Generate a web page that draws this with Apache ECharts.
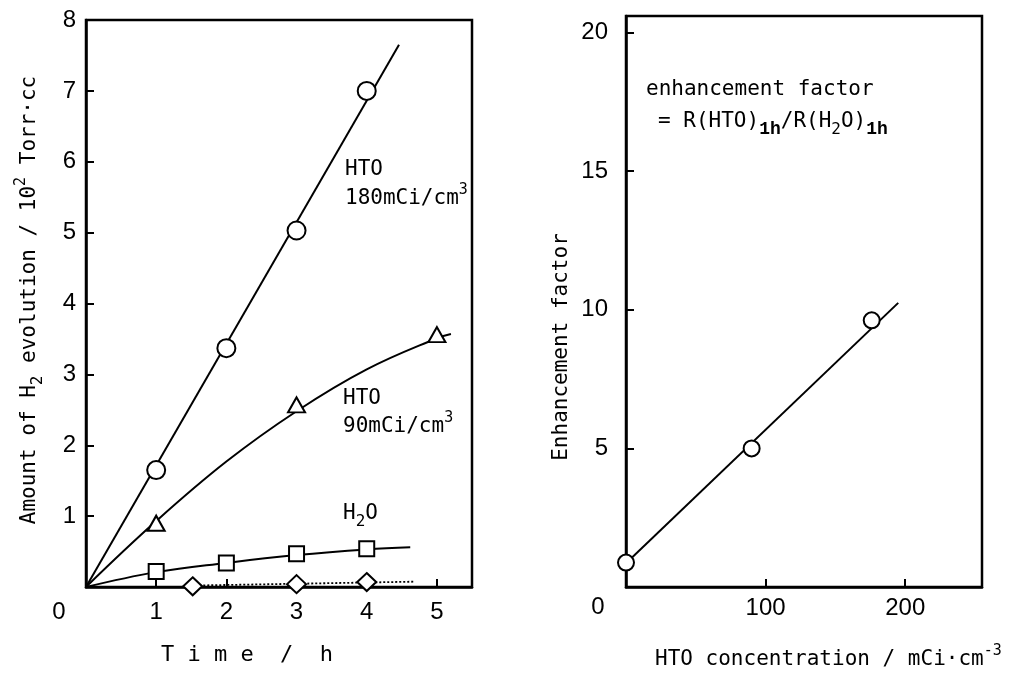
<!DOCTYPE html>
<html>
<head>
<meta charset="utf-8">
<script src="https://cdn.jsdelivr.net/npm/echarts@6/dist/echarts.min.js"></script>
<style>
html,body{margin:0;padding:0;background:#fff;}
#chart{width:1010px;height:673px;}
</style>
</head>
<body>
<div id="chart"></div>
<script>
// ---------- Left panel data (Time / h vs amount of H2 evolution / 10^2 Torr·cc) ----------
const hto180Time = [1, 2, 3, 4];
const hto180Amount = [1.65, 3.37, 5.03, 7.0];
const hto180Fit = [[0, 0], [4.46, 7.65]];

const hto90Time = [1, 3, 5];
const hto90Amount = [0.9, 2.57, 3.56];
const hto90Fit = [[0, 0], [1, 0.93], [2, 1.77], [3, 2.48], [4, 3.07], [5, 3.51], [5.2, 3.57]];

const h2oTime = [1, 2, 3, 4];
const h2oAmount = [0.22, 0.34, 0.47, 0.54];
const h2oFit = [[0, 0], [1, 0.21], [2, 0.34], [3, 0.45], [4, 0.53], [4.62, 0.56]];

const blankTime = [1.52, 3, 4];
const blankAmount = [0.01, 0.04, 0.07];
const blankFit = [[1.5, 0.02], [4.67, 0.075]];

// ---------- Right panel data (HTO concentration vs enhancement factor) ----------
const concentration = [0, 90, 176];
const enhancement = [0.88, 5.0, 9.62];
const enhancementFit = [[0, 0.86], [195, 10.25]];

// ---------- Axis ranges / ticks ----------
const leftX = {min: 0, max: 5.5, interval: 1};
const leftY = {min: 0, max: 8, interval: 1};
const rightX = {min: 0, max: 255, interval: 100};
const rightY = {min: 0, max: 20.6, interval: 5};

const MONO = 'DejaVu Sans Mono';
const SANS = 'Liberation Sans';
const TICKFS = 24;

function pts(xs, ys) { return xs.map((x, i) => [x, ys[i]]); }

function tickFmt(intv, max) {
  return function (v) {
    if (v === 0) return '';
    if (Math.abs(v / intv - Math.round(v / intv)) > 1e-6) return '';
    if (v > max) return '';
    return String(v);
  };
}

const richBase = {
  t: {fontFamily: MONO, fontSize: 21, lineHeight: 32, color: '#000'},
  sup: {fontFamily: MONO, fontSize: 15, lineHeight: 13, verticalAlign: 'top', color: '#000'},
  sub: {fontFamily: MONO, fontSize: 16, lineHeight: 12, verticalAlign: 'bottom', color: '#000'},
  sb: {fontFamily: 'Liberation Mono', fontWeight: 'bold', fontSize: 18, lineHeight: 12, verticalAlign: 'bottom', color: '#000'}
};

function txt(x, y, text, opts) {
  opts = opts || {};
  return {
    type: 'text', x: x, y: y, rotation: opts.rotation || 0, z: 100,
    style: {
      text: text, rich: richBase,
      fontFamily: opts.family || MONO, fontSize: opts.size || 21,
      fill: '#000', align: opts.align || 'left', verticalAlign: 'middle'
    }
  };
}

const axisCommon = {
  axisLine: {show: true, onZero: false, lineStyle: {color: '#000', width: 2.5}},
  axisTick: {show: true, inside: true, length: 8, lineStyle: {color: '#000', width: 2}},
  splitLine: {show: false},
  axisLabel: {color: '#000', fontFamily: SANS, fontSize: TICKFS}
};

function mk(extra) { return Object.assign({}, JSON.parse(JSON.stringify(axisCommon)), extra); }

const xAxes = [
  mk({type: 'value', gridIndex: 0, min: leftX.min, max: leftX.max, interval: leftX.interval}),
  mk({type: 'value', gridIndex: 1, min: rightX.min, max: rightX.max, interval: rightX.interval})
];
xAxes[0].axisLabel.formatter = tickFmt(leftX.interval, 5);
xAxes[0].axisLabel.margin = 13;
xAxes[1].axisLabel.formatter = tickFmt(rightX.interval, 200);
xAxes[1].axisLabel.margin = 9;

const yAxes = [
  mk({type: 'value', gridIndex: 0, min: leftY.min, max: leftY.max, interval: leftY.interval}),
  mk({type: 'value', gridIndex: 1, min: rightY.min, max: rightY.max, interval: rightY.interval})
];
yAxes[0].axisLabel.formatter = tickFmt(leftY.interval, 8);
yAxes[0].axisLabel.margin = 10;
yAxes[1].axisLabel.formatter = tickFmt(rightY.interval, 20);
yAxes[1].axisLabel.margin = 18;

const lineBase = {type: 'line', showSymbol: false, symbol: 'none', silent: true,
  lineStyle: {color: '#000', width: 2}, z: 2, animation: false};
const markBase = {type: 'scatter', silent: true, z: 5, animation: false,
  emphasis: {disabled: true},
  itemStyle: {color: '#fff', borderColor: '#000', borderWidth: 2, opacity: 1}};

const option = {
  animation: false,
  backgroundColor: '#fff',
  grid: [
    {left: 86, top: 20, width: 386, height: 567, show: true, borderColor: '#000', borderWidth: 2.5, backgroundColor: 'transparent'},
    {left: 626, top: 16, width: 356, height: 571, show: true, borderColor: '#000', borderWidth: 2.5, backgroundColor: 'transparent'}
  ],
  xAxis: xAxes,
  yAxis: yAxes,
  series: [
    Object.assign({}, lineBase, {xAxisIndex: 0, yAxisIndex: 0, data: hto180Fit}),
    Object.assign({}, lineBase, {xAxisIndex: 0, yAxisIndex: 0, data: hto90Fit, smooth: 0.4}),
    Object.assign({}, lineBase, {xAxisIndex: 0, yAxisIndex: 0, data: h2oFit, smooth: 0.4}),
    Object.assign({}, lineBase, {xAxisIndex: 0, yAxisIndex: 0, data: blankFit,
      lineStyle: {color: '#000', width: 1.8, type: [2, 2]}}),
    Object.assign({}, markBase, {xAxisIndex: 0, yAxisIndex: 0, symbol: 'circle', symbolSize: 18, data: pts(hto180Time, hto180Amount)}),
    Object.assign({}, markBase, {xAxisIndex: 0, yAxisIndex: 0, symbol: 'triangle', symbolSize: [17, 15], data: pts(hto90Time, hto90Amount)}),
    Object.assign({}, markBase, {xAxisIndex: 0, yAxisIndex: 0, symbol: 'rect', symbolSize: 15, data: pts(h2oTime, h2oAmount)}),
    Object.assign({}, markBase, {xAxisIndex: 0, yAxisIndex: 0, symbol: 'diamond', symbolSize: [19, 18], data: pts(blankTime, blankAmount)}),
    Object.assign({}, lineBase, {xAxisIndex: 1, yAxisIndex: 1, data: enhancementFit}),
    Object.assign({}, markBase, {xAxisIndex: 1, yAxisIndex: 1, symbol: 'circle', symbolSize: 16, data: pts(concentration, enhancement)})
  ],
  graphic: [
    // corner zeros
    txt(59, 612, '0', {family: SANS, size: TICKFS, align: 'center'}),
    txt(598, 607, '0', {family: SANS, size: TICKFS, align: 'center'}),
    // left panel axis titles
    txt(30, 300, '{t|Amount of H}{sub|2}{t| evolution / 10}{sup|2}{t| Torr·cc}', {align: 'center', rotation: Math.PI / 2}),
    txt(247, 655, 'T i m e  /  h', {align: 'center', size: 22}),
    // left panel curve labels
    txt(345, 170, 'HTO'),
    txt(345, 199, '{t|180mCi/cm}{sup|3}'),
    txt(343, 399, 'HTO'),
    txt(343, 427, '{t|90mCi/cm}{sup|3}'),
    txt(343, 514, '{t|H}{sub|2}{t|O}'),
    // right panel titles
    txt(562, 347, 'Enhancement factor', {align: 'center', rotation: Math.PI / 2}),
    txt(655, 660, '{t|HTO concentration / mCi·cm}{sup|-3}'),
    // right panel annotation
    txt(646, 90, 'enhancement factor'),
    txt(658, 122, '{t|= R(HTO)}{sb|1h}{t|/R(H}{sub|2}{t|O)}{sb|1h}')
  ]
};

const chart = echarts.init(document.getElementById('chart'), null, {renderer: 'canvas'});
chart.setOption(option);
</script>
</body>
</html>
